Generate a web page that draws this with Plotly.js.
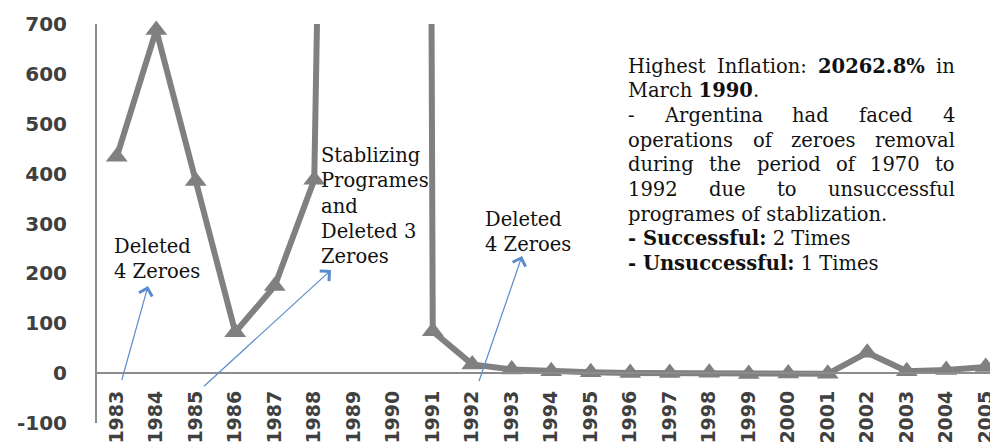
<!DOCTYPE html>
<html><head><meta charset="utf-8">
<script src="https://cdn.plot.ly/plotly-3.0.1.min.js"></script>
<style>html,body{margin:0;padding:0;background:#fff;}#chart{width:990px;height:448px;}</style>
</head><body><div id="chart"></div>
<script>
// ---- data ----
const years = [1983,1984,1985,1986,1987,1988,1989,1990,1991,1992,1993,1994,1995,1996,1997,1998,1999,2000,2001,2002,2003,2004,2005];
const yearLabels = years.map(String);
const inflation = [433.7,688.0,385.4,81.9,174.8,387.7,4923.6,20262.8,84.0,17.5,7.4,3.9,1.6,0.1,0.3,0.7,-1.8,-0.7,-1.5,41.0,3.7,6.1,12.3];
const yTicks = [-100,0,100,200,300,400,500,600,700];
const yTickLabels = yTicks.map(String);
const noteLeft = ['Deleted','4 Zeroes'];
const noteMiddle = ['Stablizing','Programes','and','Deleted 3','Zeroes'];
const noteRight = ['Deleted','4 Zeroes'];
const paragraph = [
  {words:['Highest','Inflation:','<b>20262.8%</b>','in'], justify:true},
  {words:['March','<b>1990</b>.'], justify:false},
  {words:['-','Argentina','had','faced','4'], justify:true},
  {words:['operations','of','zeroes','removal'], justify:true},
  {words:['during','the','period','of','1970','to'], justify:true},
  {words:['1992','due','to','unsuccessful'], justify:true},
  {words:['programes','of','stablization.'], justify:false},
  {words:['<b>-','Successful:</b>','2','Times'], justify:false},
  {words:['<b>-','Unsuccessful:</b>','1','Times'], justify:false}
];

// ---- geometry helpers ----
const W=990,H=448,L=97,R=0,T=24,B=25;
const plotW=W-L-R, plotH=H-T-B;
const px = v => (v-L)/plotW;
const py = v => (H-B-v)/plotH;
const serif = '"DejaVu Serif", serif';
const FS = 19.5;
const cv = document.createElement('canvas').getContext('2d');
function measure(w){
  const bold = /<b>|<\/b>/.test(w);
  const plain = w.replace(/<\/?b>/g,'');
  cv.font = (bold?'bold ':'') + FS + 'px "DejaVu Serif"';
  return cv.measureText(plain).width;
}

const annotations = [];
function block(lines, x, yCenter){
  annotations.push({xref:'paper',yref:'paper',x:px(x),y:py(yCenter),xanchor:'left',yanchor:'middle',
    align:'left',showarrow:false,text:lines.join('<br>'),font:{family:serif,size:FS,color:'#111'}});
}
block(noteLeft,112,259);
block(noteMiddle,319,206);
block(noteRight,483,232);

const parLeft=627, parRight=954, parTop=66, parStep=24.7;
paragraph.forEach((ln,i)=>{
  const yc = parTop + i*parStep;
  if(ln.justify){
    const ws = ln.words.map(measure);
    const sum = ws.reduce((a,b)=>a+b,0);
    const gap = (parRight-parLeft-sum)/(ln.words.length-1);
    let xx = parLeft;
    ln.words.forEach((w,k)=>{
      let t = w;
      if(/<b>/.test(t) && !/<\/b>/.test(t)) t += '</b>';
      if(/<\/b>/.test(t) && !/<b>/.test(t)) t = '<b>'+t;
      annotations.push({xref:'paper',yref:'paper',x:px(xx),y:py(yc),xanchor:'left',yanchor:'middle',
        showarrow:false,borderpad:0,text:t,font:{family:serif,size:FS,color:'#111'}});
      xx += ws[k]+gap;
    });
  } else {
    annotations.push({xref:'paper',yref:'paper',x:px(parLeft),y:py(yc),xanchor:'left',yanchor:'middle',
      showarrow:false,borderpad:0,text:ln.words.join(' '),font:{family:serif,size:FS,color:'#111'}});
  }
});

function arrow(hx,hy,tx,ty){
  annotations.push({xref:'paper',yref:'paper',x:px(hx),y:py(hy),ax:tx-hx,ay:ty-hy,text:' ',
    showarrow:true,arrowhead:4,arrowsize:2.2,arrowwidth:1.2,arrowcolor:'#5a8ccc',standoff:0,startstandoff:0});
}
arrow(148,286,119,390);
arrow(331,270,201,389);
arrow(522,256,476,390);

const trace = {
  x: years, y: inflation, type:'scatter', mode:'lines+markers',
  line:{color:'#808080',width:6},
  marker:{symbol:'triangle-up',size:19,color:'#808080'},
  cliponaxis:false, hoverinfo:'skip'
};

const tickFont = {family:'"DejaVu Sans", sans-serif',size:19,color:'#404040',weight:'bold'};
const layout = {
  width:W,height:H,margin:{l:L,r:R,t:T,b:B,pad:0},
  paper_bgcolor:'#fff',plot_bgcolor:'#fff',showlegend:false,
  xaxis:{type:'linear',range:[1982.5,1982.5+plotW/39.5],tickvals:years,ticktext:yearLabels,
    tickangle:-90,anchor:'free',position:0.125,showline:true,linecolor:'#8c8c8c',linewidth:2,
    showgrid:false,zeroline:false,ticks:'outside',ticklen:9,tickcolor:'rgba(0,0,0,0)',
    ticklabeloverflow:'allow',tickfont:tickFont},
  yaxis:{range:[-100,700],tickvals:yTicks,ticktext:yTickLabels,showline:true,linecolor:'#8c8c8c',linewidth:2,
    showgrid:false,zeroline:false,ticks:'outside',ticklen:24,tickcolor:'rgba(0,0,0,0)',
    ticklabeloverflow:'allow',tickfont:{family:'"DejaVu Sans", sans-serif',size:20,color:'#404040',weight:'bold'}},
  annotations: annotations
};
Plotly.newPlot('chart',[trace],layout,{staticPlot:true,displayModeBar:false});
</script></body></html>
